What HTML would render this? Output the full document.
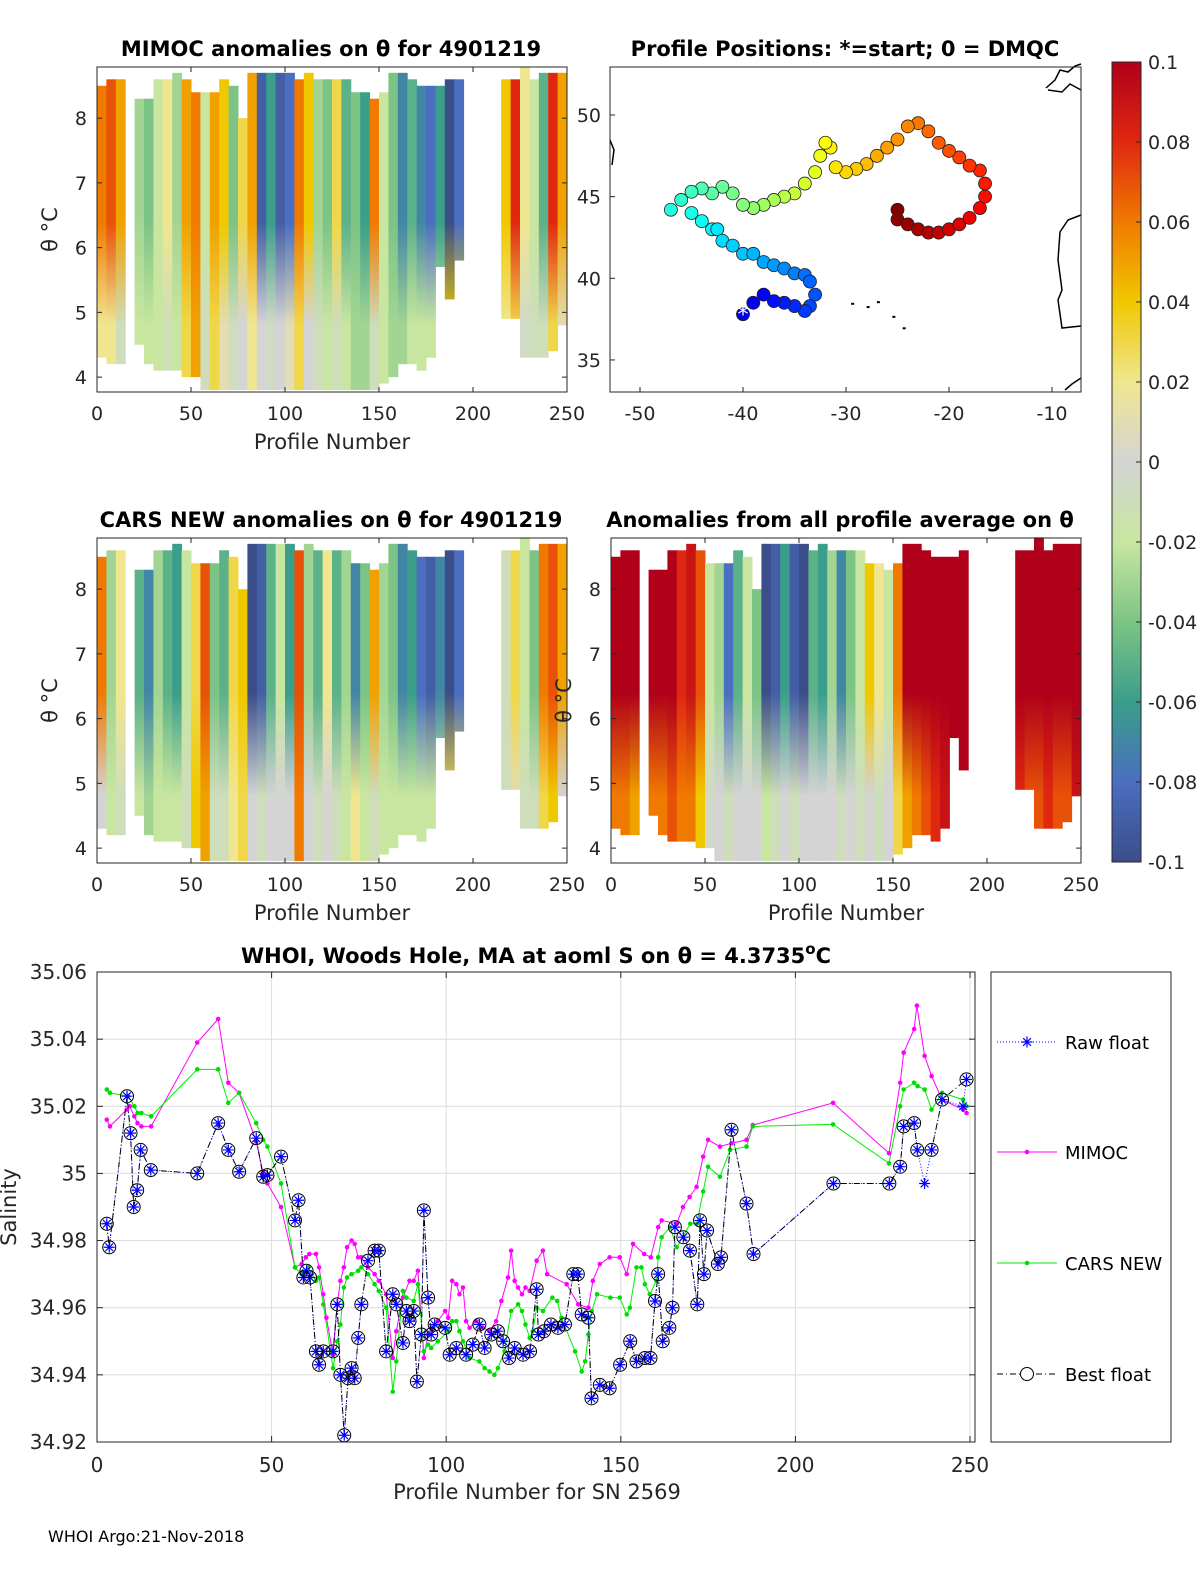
<!DOCTYPE html>
<html><head><meta charset="utf-8">
<style>
html,body{margin:0;padding:0;background:#fff;}
svg{display:block;font-family:"DejaVu Sans","Liberation Sans",sans-serif;}
.t{font-weight:bold;font-size:21px;}
.tk{font-size:19px;fill:#262626;}
.lb{font-size:21px;fill:#262626;}
</style></head>
<body>
<svg id="fig" width="1200" height="1575" viewBox="0 0 1200 1575" xmlns="http://www.w3.org/2000/svg">
<defs id="defs">
<linearGradient id="cbg" x1="0" y1="1" x2="0" y2="0">
<stop offset="0" stop-color="#3b4e8a"/><stop offset="0.1" stop-color="#4a6ec0"/><stop offset="0.2" stop-color="#3a9e8a"/><stop offset="0.3" stop-color="#7cc485"/><stop offset="0.4" stop-color="#c8e6a0"/><stop offset="0.5" stop-color="#d4d4d4"/><stop offset="0.6" stop-color="#f0e690"/><stop offset="0.7" stop-color="#f0c800"/><stop offset="0.8" stop-color="#f07a00"/><stop offset="0.9" stop-color="#e02810"/><stop offset="1" stop-color="#b0001a"/>
</linearGradient>
</defs>
<g id="layer"></g>
</svg>
<script>
// ---------- heatmap data (5-profile columns c0..c49) ----------
const colStart = [0,5,10,15,20,25,30,35,40,45,50,55,60,65,70,75,80,85,90,95,100,105,110,115,120,125,130,135,140,145,150,155,160,165,170,175,180,185,190,195,200,205,210,215,220,225,230,235,240,245];
const colTop = [8.5,8.6,8.6,null,8.3,8.3,8.6,8.6,8.7,8.6,8.4,8.4,8.4,8.6,8.5,8.0,8.7,8.7,8.7,8.7,8.7,8.6,8.7,8.6,8.6,8.6,8.6,8.4,8.4,8.3,8.4,8.7,8.7,8.6,8.5,8.5,8.5,8.6,8.6,null,null,null,null,8.6,8.6,8.8,8.6,8.7,8.7,8.7];
const colBot = [4.3,4.2,4.2,null,4.5,4.2,4.1,4.1,4.1,4.0,4.0,3.8,3.8,3.8,3.8,3.8,3.8,3.8,3.8,3.8,3.8,3.8,3.8,3.8,3.8,3.8,3.8,3.8,3.8,3.8,3.9,4.0,4.2,4.2,4.1,4.3,5.7,5.2,5.8,null,null,null,null,4.9,4.9,4.3,4.3,4.3,4.4,4.8];
const N = null;
const mimocUpper = [0.06,0.07,0.05,N,-0.03,-0.04,-0.02,0.02,-0.03,0.05,0.06,-0.02,0.05,0.04,-0.04,0.03,0.05,-0.09,-0.06,-0.09,-0.08,0.06,0.04,-0.03,-0.04,0.03,-0.05,-0.04,-0.06,0.06,-0.02,-0.04,-0.07,-0.05,-0.07,-0.08,-0.06,-0.1,-0.08,N,N,N,N,0.04,0.08,0.02,-0.02,-0.05,0.08,0.05];
const mimocLower = [0.02,0.02,-0.01,N,-0.02,-0.02,-0.02,-0.01,-0.02,0.03,0.05,-0.01,0.03,0.01,-0.01,0,0.02,0,-0.005,0,0.01,0.03,0,-0.01,-0.02,-0.01,-0.02,-0.03,-0.03,-0.01,-0.02,-0.03,-0.03,-0.02,-0.02,-0.02,-0.02,0.04,0.04,N,N,N,N,0.02,0.03,-0.005,-0.01,-0.01,0.03,0.01];
const carsUpper = [0.06,-0.03,0.02,N,-0.05,-0.07,-0.03,-0.05,-0.06,-0.02,0.03,0.07,-0.04,-0.05,0.03,0.04,-0.1,-0.09,-0.05,-0.02,-0.06,0.07,-0.03,-0.05,0.02,-0.05,-0.03,-0.07,-0.04,0.05,-0.03,-0.04,-0.07,-0.06,-0.08,-0.09,-0.07,-0.1,-0.08,N,N,N,N,-0.01,0.03,-0.02,-0.04,0.06,0.07,0.05];
const carsLower = [0.0,-0.02,-0.01,N,-0.02,-0.03,-0.02,-0.02,-0.02,-0.01,0.04,0.05,-0.01,-0.01,0.02,0.03,0,-0.01,0,0,0,0.06,0,-0.01,0,-0.01,-0.02,0.02,-0.02,-0.01,-0.02,-0.02,-0.02,-0.02,-0.02,-0.02,-0.02,0.03,0.03,N,N,N,N,-0.01,0.01,-0.01,-0.01,0.03,0.04,0.0];
const avgUpper = [0.1,0.1,0.1,N,0.1,0.1,0.1,0.08,0.09,0.07,-0.02,-0.03,-0.08,-0.05,-0.02,-0.04,-0.1,-0.09,-0.06,-0.09,-0.1,-0.05,-0.06,-0.03,-0.07,-0.04,-0.02,0.04,0.02,-0.02,0.06,0.1,0.1,0.1,0.1,0.1,0.1,0.1,N,N,N,N,N,0.1,0.1,0.1,0.1,0.1,0.1,0.1];
const avgLower = [0.06,0.06,0.05,N,0.06,0.06,0.07,0.06,0.06,0.04,-0.005,0,-0.01,0,0,0,-0.02,-0.01,0,-0.01,0,0,0,0,-0.01,0,-0.01,0,-0.01,0,0.03,0.05,0.06,0.07,0.08,0.09,0.1,0.1,N,N,N,N,N,0.08,0.07,0.07,0.08,0.07,0.07,0.09];

// ---------- map track data ----------
const trackLon = [-40,-39,-38,-37,-36,-35,-34,-33.5,-33,-33.5,-34,-35,-36,-37,-38,-39,-40,-41,-42,-42.5,-43,-44,-45,-47,-46,-45,-44,-43,-42,-41,-40,-39,-38,-37,-36,-35,-34,-33,-32.5,-32,-31.5,-31,-30,-29,-28,-27,-26,-25,-24,-23,-22,-21,-20,-19,-18,-17,-16.5,-16.5,-17,-18,-19,-20,-21,-22,-23,-24,-25,-25];
const trackLat = [37.8,38.5,39,38.6,38.5,38.3,38,38.3,39,39.8,40.2,40.3,40.6,40.8,41,41.5,41.5,42,42.3,43,43,43.5,44,44.2,44.8,45.3,45.5,45.2,45.6,45.2,44.5,44.3,44.5,44.8,45,45.2,45.8,46.5,47.5,48.3,48,46.8,46.5,46.7,47,47.5,48,48.5,49.3,49.5,49,48.3,47.8,47.4,46.9,46.6,45.8,45,44.3,43.7,43.3,43,42.8,42.8,43,43.3,43.6,44.2];

// ---------- salinity line data ----------
const bestP = [2.8,3.5,8.6,9.6,10.5,11.5,12.5,15.4,28.7,34.7,37.6,40.7,45.6,47.6,48.8,52.7,56.7,57.7,59.1,60,61,62.7,63.6,64.8,67.6,68.8,69.7,70.8,71.9,72.9,73.8,74.8,75.7,77.6,79.5,80.7,82.8,84.7,85.7,87.6,88.6,89.5,90.7,91.6,92.9,93.6,94.8,95.7,96.7,99.7,101,102.9,105.7,107.6,109.5,111,112.9,114.8,116.3,118,119.6,122,124,125.9,126.4,128,130,132,134,136.4,137.7,138.8,140.7,141.6,144,146.8,149.8,152.7,154.5,156.9,158.5,159.8,160.7,162,163.9,164.8,165.5,167.9,169.8,171.9,172.7,173.8,174.7,177.8,178.7,181.7,186,188,210.9,226.9,230,231,234,234.9,239,242,249];
const bestS = [34.985,34.978,35.023,35.012,34.990,34.995,35.007,35.001,35.000,35.015,35.007,35.0005,35.0105,34.999,34.9995,35.005,34.986,34.992,34.969,34.971,34.969,34.947,34.943,34.947,34.947,34.961,34.940,34.922,34.939,34.942,34.939,34.951,34.961,34.974,34.977,34.977,34.947,34.964,34.961,34.9495,34.959,34.956,34.959,34.938,34.952,34.989,34.963,34.952,34.955,34.954,34.946,34.948,34.946,34.949,34.955,34.948,34.952,34.953,34.950,34.945,34.948,34.946,34.947,34.9655,34.952,34.953,34.955,34.954,34.955,34.970,34.970,34.958,34.957,34.933,34.937,34.936,34.943,34.950,34.944,34.945,34.945,34.962,34.970,34.950,34.954,34.960,34.984,34.981,34.977,34.961,34.986,34.970,34.983,34.973,34.975,35.013,34.991,34.976,34.997,34.997,35.002,35.014,35.015,35.007,35.007,35.022,35.028];
const rawExtraP = [237,248];
const rawExtraS = [34.997,35.020];
const mimocP = [2.8,3.7,8.5,9.4,10.7,11.6,12.7,15.5,28.7,34.7,37.6,40.7,45.6,47.6,48.8,52.7,56.7,58.6,59.8,60.8,62.7,63.6,64.8,65.7,67.6,68.8,69.7,70.7,71.6,72.9,73.8,74.8,75.7,77.6,79.5,80.7,82.8,84.7,85.7,87.6,89.5,90.7,91.9,93.6,94.8,95.7,97.6,99.7,100.6,101.7,102.9,103.8,104.8,105.7,106.7,108.6,110.5,112.4,114.3,115.8,117.7,118.6,119.6,120.6,121.7,122.7,123.9,125.9,127.7,128.9,134.5,137.8,140.7,142,144,146.8,149.7,151.7,153.5,156.7,158.6,160.7,161.7,166,167.8,169.7,171.7,173.6,175,178.4,181.7,186,187.8,210.8,226.8,230,231,234,234.8,237,239,242,248,249];
const mimocS = [35.016,35.014,35.019,35.020,35.017,35.015,35.014,35.014,35.039,35.046,35.027,35.024,35.0095,35.000,34.997,34.990,34.972,34.973,34.975,34.976,34.976,34.972,34.964,34.957,34.946,34.961,34.968,34.972,34.978,34.980,34.979,34.975,34.975,34.972,34.970,34.968,34.964,34.945,34.953,34.963,34.968,34.968,34.971,34.945,34.952,34.954,34.956,34.959,34.957,34.968,34.967,34.964,34.966,34.956,34.954,34.956,34.954,34.953,34.956,34.962,34.969,34.977,34.968,34.966,34.964,34.966,34.965,34.974,34.977,34.970,34.967,34.961,34.960,34.968,34.973,34.975,34.975,34.970,34.979,34.976,34.975,34.984,34.986,34.985,34.990,34.993,34.996,35.005,35.010,35.008,35.009,35.010,35.0144,35.021,35.006,35.027,35.036,35.043,35.050,35.035,35.029,35.022,35.019,35.018];
const carsP = [2.8,3.7,8.9,10.7,11.6,12.7,15.5,28.7,34.7,37.6,40.7,45.6,47.6,48.8,52.7,56.7,58.6,60.5,62.7,63.6,64.8,67.6,68.8,69.7,70.7,71.6,72.9,74.8,75.7,77.6,79.5,80.7,82.8,84.7,85.7,87.6,88.6,90.7,91.9,93.6,94.8,95.7,97.6,100.6,101.7,102.9,103.8,104.8,106.7,109.5,111,112.4,113.8,114.8,116.7,118.6,120.6,121.7,122.7,123.9,124.8,125.9,127.7,130.4,131.8,133,136.9,138.8,139.8,140.7,141.7,143.2,147,149.7,151.7,152.6,154.5,155.9,156.9,158.3,160.2,160.7,161.7,164.1,166,169.9,171.8,173.6,175,178.4,181.3,186,187.8,210.8,226.8,230,231,234,235,237,239,242,248,249];
const carsS = [35.025,35.024,35.023,35.020,35.018,35.018,35.017,35.031,35.031,35.021,35.024,35.015,35.010,35.008,34.997,34.972,34.970,34.972,34.968,34.969,34.961,34.942,34.950,34.955,34.966,34.969,34.970,34.971,34.972,34.970,34.967,34.965,34.960,34.935,34.944,34.965,34.963,34.962,34.967,34.947,34.949,34.948,34.950,34.953,34.956,34.956,34.953,34.950,34.945,34.944,34.942,34.941,34.940,34.942,34.947,34.959,34.961,34.959,34.955,34.951,34.953,34.960,34.959,34.963,34.962,34.957,34.947,34.941,34.944,34.952,34.959,34.964,34.963,34.963,34.958,34.960,34.972,34.972,34.967,34.964,34.968,34.975,34.981,34.984,34.978,34.985,34.985,34.9946,35.002,34.999,35.007,35.008,35.014,35.0146,35.003,35.020,35.025,35.027,35.026,35.025,35.019,35.024,35.022,35.020];

// ---------- tick labels ----------
const profTicks = [0,50,100,150,200,250];
const thetaTicks = [4,5,6,7,8];
const lonTicks = [-50,-40,-30,-20,-10];
const latTicks = [35,40,45,50];
const cbTicks = [0.1,0.08,0.06,0.04,0.02,0,-0.02,-0.04,-0.06,-0.08,-0.1];
const cbLabels = ["0.1","0.08","0.06","0.04","0.02","0","-0.02","-0.04","-0.06","-0.08","-0.1"];
const salTicks = [34.92,34.94,34.96,34.98,35,35.02,35.04,35.06];
const salLabels = ["34.92","34.94","34.96","34.98","35","35.02","35.04","35.06"];

const NS = "http://www.w3.org/2000/svg";
const layer = document.getElementById('layer');
const defs = document.getElementById('defs');
function mk(tag, attrs, parent, txt){
  const e = document.createElementNS(NS, tag);
  for (const k in attrs) e.setAttribute(k, attrs[k]);
  if (txt !== undefined) e.textContent = txt;
  (parent || layer).appendChild(e);
  return e;
}
const stops = [[-0.1,[59,78,138]],[-0.08,[74,110,192]],[-0.06,[58,158,138]],[-0.04,[124,196,133]],[-0.02,[200,230,160]],[0,[212,212,212]],[0.02,[240,230,144]],[0.04,[240,200,0]],[0.06,[240,122,0]],[0.08,[224,40,16]],[0.1,[176,0,26]]];
function cmap(v){
  v = Math.max(-0.1, Math.min(0.1, v));
  for (let i=0;i<stops.length-1;i++){
    const a=stops[i], b=stops[i+1];
    if (v<=b[0]){ const t=(v-a[0])/(b[0]-a[0]);
      const c=a[1].map((x,j)=>Math.round(x+(b[1][j]-x)*t)); return `rgb(${c[0]},${c[1]},${c[2]})`; }
  }
  return 'rgb(176,0,26)';
}
function jet(t){
  const r = Math.max(0,Math.min(1,Math.min(4*t-1.5,-4*t+4.5)));
  const g = Math.max(0,Math.min(1,Math.min(4*t-0.5,-4*t+3.5)));
  const b = Math.max(0,Math.min(1,Math.min(4*t+0.5,-4*t+2.5)));
  return `rgb(${Math.round(r*255)},${Math.round(g*255)},${Math.round(b*255)})`;
}
let gid = 0;
function heatPanel(name, bx, by, upper, lower, title, titleX){
  const W=470, H=325;
  const g = mk('g', {});
  
  
  const xS = p => bx + p/250*W;
  const yS = th => by + (8.79 - th)/(8.79-3.77)*H;
  for (let i=0;i<colStart.length;i++){
    if (colTop[i]===null || upper[i]===null) continue;
    const x0=xS(colStart[i]), x1=xS(colStart[i]+5);
    const id='hg'+(gid++);
    const lg = mk('linearGradient',{id:id,gradientUnits:'userSpaceOnUse',x1:0,x2:0,y1:yS(6.4),y2:yS(4.8)},defs);
    mk('stop',{offset:0,'stop-color':cmap(upper[i])},lg);
    mk('stop',{offset:1,'stop-color':cmap(lower[i])},lg);
    const bot = Math.max(colBot[i], 3.77);
    const c = mk('rect', {x:x0, y:yS(colTop[i]), width:x1-x0+0.5, height:yS(bot)-yS(colTop[i]), fill:`url(#${id})`}, g);
    
    
  }
  mk('rect', {x:bx, y:by, width:W, height:H, fill:'none', stroke:'#262626', 'stroke-width':1}, g);
  profTicks.forEach(t=>{
    mk('line',{x1:xS(t),x2:xS(t),y1:by+H,y2:by+H-5,stroke:'#262626'},g);
    mk('line',{x1:xS(t),x2:xS(t),y1:by,y2:by+5,stroke:'#262626'},g);
    const tl = mk('text',{x:xS(t),y:by+H+28,'text-anchor':'middle',class:'tk'},g,String(t));
    
    
  });
  thetaTicks.forEach(t=>{
    mk('line',{x1:bx,x2:bx+5,y1:yS(t),y2:yS(t),stroke:'#262626'},g);
    mk('line',{x1:bx+W,x2:bx+W-5,y1:yS(t),y2:yS(t),stroke:'#262626'},g);
    const tl = mk('text',{x:bx-10,y:yS(t)+7,'text-anchor':'end',class:'tk'},g,String(t));
    
    
  });
  const yl = mk('text',{x:0,y:0,transform:`translate(${bx-40},${by+H/2}) rotate(-90)`,'text-anchor':'middle',class:'lb'},g,'θ °C');
  
  
  const xl = mk('text',{x:bx+W/2,y:by+H+57,'text-anchor':'middle',class:'lb'},g,'Profile Number');
  
  
  const tt = mk('text',{x:titleX,y:by-11,'text-anchor':'middle',class:'t'},g,title);
  
  
}
heatPanel('mimoc-anomaly-panel', 97, 67, mimocUpper, mimocLower, 'MIMOC anomalies on θ  for 4901219', 331);
heatPanel('cars-anomaly-panel', 97, 538, carsUpper, carsLower, 'CARS NEW anomalies on θ for 4901219', 331);
heatPanel('average-anomaly-panel', 611, 538, avgUpper, avgLower, 'Anomalies from all profile average on θ', 840);

// ---------- map ----------
(function(){
  const bx=610, by=67, W=471, H=325;
  const g = mk('g', {});
  
  
  const xS = lon => 640 + (lon+50)*10.3;
  const yS = lat => 115 + (50-lat)*16.33;
  [[[1046,88],[1055,80],[1060,70],[1068,72],[1075,66],[1081,64]],[[1081,90],[1070,84],[1062,92],[1048,90]],[[1081,215],[1068,220],[1060,232],[1058,260],[1062,290],[1058,300],[1062,328],[1081,326]],[[1065,390],[1072,384],[1081,378]],[[610,140],[614,150],[612,165]]].forEach(pts=>{
    const c = mk('polyline',{points:pts.map(p=>p.join(',')).join(' '),fill:'none',stroke:'#000','stroke-width':1.5},g);
    
    
  });
  [[-29.5,38.5],[-28,38.3],[-27,38.6],[-25.5,37.7],[-24.5,37]].forEach(p=>{
    const c=mk('rect',{x:xS(p[0]),y:yS(p[1]),width:3,height:2,fill:'#000'},g);
    
    
  });
  const n = trackLon.length;
  for (let i=n-1;i>=0;i--){
    const t = 0.1 + 0.9*i/(n-1);
    const c = mk('circle',{cx:xS(trackLon[i]),cy:yS(trackLat[i]),r:6.5,fill:jet(t),stroke:'#222','stroke-width':0.8},g);
    
    
  }
  const st = mk('text',{x:xS(trackLon[0]),y:yS(trackLat[0])+8,'text-anchor':'middle','font-size':'22px',fill:'#fff'},g,'*');
  
  
  mk('rect',{x:bx,y:by,width:W,height:H,fill:'none',stroke:'#262626'},g);
  lonTicks.forEach(t=>{
    mk('line',{x1:xS(t),x2:xS(t),y1:by+H,y2:by+H-5,stroke:'#262626'},g);
    const tl=mk('text',{x:xS(t),y:by+H+28,'text-anchor':'middle',class:'tk'},g,String(t));
    
    
  });
  latTicks.forEach(t=>{
    mk('line',{x1:bx,x2:bx+5,y1:yS(t),y2:yS(t),stroke:'#262626'},g);
    const tl=mk('text',{x:bx-9,y:yS(t)+7,'text-anchor':'end',class:'tk'},g,String(t));
    
    
  });
  const tt=mk('text',{x:845,y:56,'text-anchor':'middle',class:'t'},g,'Profile Positions: *=start; 0 = DMQC');
  
  
})();

// ---------- colorbar ----------
(function(){
  const g = mk('g',{});
  
  
  mk('rect',{x:1112,y:62,width:29,height:800,fill:'url(#cbg)',stroke:'#262626'},g);
  cbTicks.forEach((t,i)=>{
    const y = 62 + (0.1-t)/0.2*800;
    mk('line',{x1:1136,x2:1141,y1:y,y2:y,stroke:'#262626'},g);
    const tl=mk('text',{x:1148,y:y+7,class:'tk'},g,cbLabels[i]);
    
    
  });
})();

// ---------- salinity chart ----------
(function(){
  const bx=97, by=972, W=878, H=470;
  const g = mk('g',{});
  
  
  const xS = p => 97 + p*3.492;
  const yS = s => 972 + (35.06 - s)*3357;
  profTicks.forEach(t=>{
    const gl=mk('line',{x1:xS(t),x2:xS(t),y1:by,y2:by+H,stroke:'#dcdcdc'},g);
    
    
    mk('line',{x1:xS(t),x2:xS(t),y1:by+H,y2:by+H-6,stroke:'#262626'},g);
    mk('line',{x1:xS(t),x2:xS(t),y1:by,y2:by+6,stroke:'#262626'},g);
    const tl=mk('text',{x:xS(t),y:by+H+30,'text-anchor':'middle',class:'tk',style:'font-size:20px'},g,String(t));
    
    
  });
  salTicks.forEach((t,i)=>{
    const gl=mk('line',{x1:bx,x2:bx+W,y1:yS(t),y2:yS(t),stroke:'#dcdcdc'},g);
    
    
    mk('line',{x1:bx,x2:bx+6,y1:yS(t),y2:yS(t),stroke:'#262626'},g);
    mk('line',{x1:bx+W,x2:bx+W-6,y1:yS(t),y2:yS(t),stroke:'#262626'},g);
    const tl=mk('text',{x:bx-10,y:yS(t)+7,'text-anchor':'end',class:'tk',style:'font-size:20px'},g,salLabels[i]);
    
    
  });
  function pts(P,S){ return P.map((p,i)=>xS(p).toFixed(1)+','+yS(S[i]).toFixed(1)).join(' '); }
  const rp=[], rs=[];
  const all = bestP.map((p,i)=>[p,bestS[i]]).concat(rawExtraP.map((p,i)=>[p,rawExtraS[i]])).sort((a,b)=>a[0]-b[0]);
  all.forEach(a=>{rp.push(a[0]); rs.push(a[1]);});
  const mline=mk('polyline',{points:pts(mimocP,mimocS),fill:'none',stroke:'#ff00ff','stroke-width':1},g);
  
  
  const cline=mk('polyline',{points:pts(carsP,carsS),fill:'none',stroke:'#00ee00','stroke-width':1},g);
  
  
  mimocP.forEach((p,i)=>{ const d=mk('circle',{cx:xS(p),cy:yS(mimocS[i]),r:2.3,fill:'#ff00ff'},g);
    
     });
  carsP.forEach((p,i)=>{ const d=mk('circle',{cx:xS(p),cy:yS(carsS[i]),r:2.3,fill:'#00dd00'},g);
    
     });
  const rline=mk('polyline',{points:pts(rp,rs),fill:'none',stroke:'#0000ff','stroke-width':1,'stroke-dasharray':'1,2'},g);
  
  
  const bline=mk('polyline',{points:pts(bestP,bestS),fill:'none',stroke:'#000','stroke-width':1,'stroke-dasharray':'6,3,1,3'},g);
  
  
  function star(x,y,parent){
    const s=5.5; let d='';
    d+=`M${x-s},${y}L${x+s},${y}M${x},${y-s}L${x},${y+s}M${x-s*0.7},${y-s*0.7}L${x+s*0.7},${y+s*0.7}M${x-s*0.7},${y+s*0.7}L${x+s*0.7},${y-s*0.7}`;
    return mk('path',{d:d,stroke:'#0000ff','stroke-width':1.2,fill:'none'},parent);
  }
  rp.forEach((p,i)=>{ const s=star(xS(p),yS(rs[i]),g);
    
     });
  bestP.forEach((p,i)=>{ const c=mk('circle',{cx:xS(p),cy:yS(bestS[i]),r:6.5,fill:'none',stroke:'#000','stroke-width':1},g);
    
     });
  mk('rect',{x:bx,y:by,width:W,height:H,fill:'none',stroke:'#262626'},g);
  const tt=mk('text',{x:536,y:963,'text-anchor':'middle',class:'t'},g);
  
  
  tt.innerHTML = 'WHOI, Woods Hole, MA at aoml S on θ = 4.3735<tspan dy="-9" font-size="15">o</tspan><tspan dy="9">C</tspan>';
  const xl=mk('text',{x:537,y:1499,'text-anchor':'middle',class:'lb'},g,'Profile Number for SN 2569');
  
  
  const yl=mk('text',{x:0,y:0,transform:'translate(16,1207) rotate(-90)','text-anchor':'middle',class:'lb'},g,'Salinity');
  
  
  const lg = mk('g',{},g);
  
  
  mk('rect',{x:991,y:972,width:180,height:470,fill:'#fff',stroke:'#262626'},lg);
  const ly=[1042,1152,1263,1374], ln=['Raw float','MIMOC','CARS NEW','Best float'];
  ln.forEach((t,i)=>{
    const e=mk('g',{},lg);
    
    
    const y=ly[i];
    if(i===0){ mk('line',{x1:997,x2:1057,y1:y,y2:y,stroke:'#0000ff','stroke-dasharray':'1,2'},e); star(1027,y,e); }
    if(i===1){ mk('line',{x1:997,x2:1057,y1:y,y2:y,stroke:'#ff00ff'},e); mk('circle',{cx:1027,cy:y,r:2.3,fill:'#ff00ff'},e); }
    if(i===2){ mk('line',{x1:997,x2:1057,y1:y,y2:y,stroke:'#00ee00'},e); mk('circle',{cx:1027,cy:y,r:2.3,fill:'#00dd00'},e); }
    if(i===3){ mk('line',{x1:997,x2:1057,y1:y,y2:y,stroke:'#000','stroke-dasharray':'6,3,1,3'},e); mk('circle',{cx:1027,cy:y,r:6.5,fill:'#fff',stroke:'#000'},e); }
    mk('text',{x:1065,y:y+7,'font-size':'18px',fill:'#000'},e,t);
  });
})();
const ft = mk('text',{x:48,y:1542,'font-size':'16px',fill:'#000'},layer,'WHOI Argo:21-Nov-2018');


</script>
</body></html>
